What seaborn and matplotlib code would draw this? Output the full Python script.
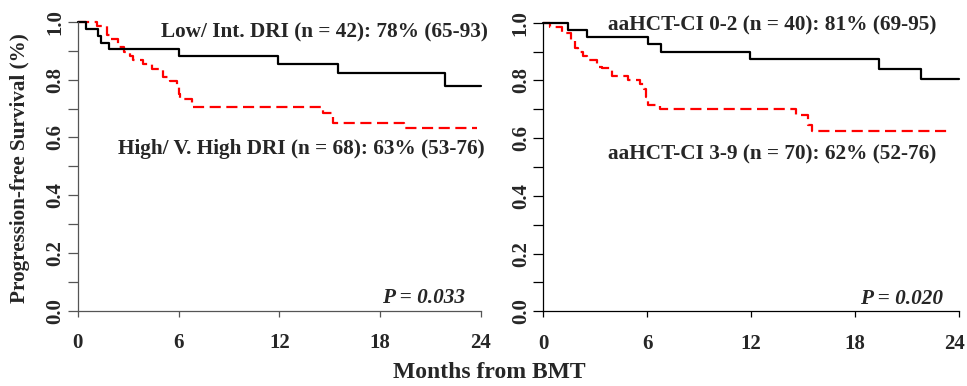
import numpy as np
import pandas as pd
import matplotlib
matplotlib.use("Agg")
import matplotlib.pyplot as plt
import matplotlib.transforms as mtrans
import seaborn as sns

# ---- data ----
# Left panel: DRI
dri_low_t = [0, 0.5, 1.23, 1.39, 1.88, 6.03, 11.94, 15.5, 21.85, 24]
dri_low_s = [1.0, 0.976, 0.952, 0.929, 0.905, 0.881, 0.855, 0.823, 0.780, 0.780]
dri_high_t = [0, 1.13, 1.73, 1.92, 2.42, 2.76, 3.1, 3.31, 3.9, 4.4, 5.1, 5.5, 5.9, 6.0, 6.1,
              6.8, 14.6, 15.2, 19.4, 23.75]
dri_high_s = [1.0, 0.985, 0.956, 0.941, 0.912, 0.897, 0.882, 0.868, 0.853, 0.838, 0.809, 0.794,
              0.779, 0.750, 0.735, 0.706, 0.686, 0.651, 0.634, 0.634]
# Right panel: aaHCT-CI
ci_low_t = [0, 1.44, 2.54, 6.07, 6.8, 11.94, 19.4, 21.8, 24]
ci_low_s = [1.0, 0.975, 0.950, 0.925, 0.900, 0.875, 0.841, 0.806, 0.806]
ci_high_t = [0, 0.4, 1.1, 1.6, 1.85, 2.0, 2.3, 2.5, 3.1, 3.4, 4.0, 4.9, 5.6, 5.8, 5.95, 6.05,
             6.75, 14.6, 15.3, 15.5, 23.5]
ci_high_s = [1.0, 0.986, 0.964, 0.936, 0.914, 0.900, 0.886, 0.871, 0.848, 0.843, 0.815, 0.800,
             0.786, 0.771, 0.743, 0.714, 0.700, 0.680, 0.646, 0.625, 0.625]

labels_left = ["Low/ Int. DRI (n = 42): 78% (65-93)", "High/ V. High DRI (n = 68): 63% (53-76)"]
labels_right = ["aaHCT-CI 0-2 (n = 40): 81% (69-95)", "aaHCT-CI 3-9 (n = 70): 62% (52-76)"]
pvals = ["P = 0.033", "P = 0.020"]
x_ticks = [0, 6, 12, 18, 24]
y_ticks = [0.0, 0.2, 0.4, 0.6, 0.8, 1.0]
y_minor = [0.1, 0.3, 0.5, 0.7, 0.9]
y_label = "Progression-free Survival (%)"
x_label = "Months from BMT"

sns.set_style("ticks")
plt.rcParams["font.family"] = ["Liberation Serif", "DejaVu Serif"]
plt.rcParams["font.weight"] = "bold"

FS = 15.3
FS_TICK = 15
FS_YLAB = 15.2
FS_XLAB = 17
fig = plt.figure(figsize=(9.67, 3.86), dpi=100)
axL = fig.add_axes([0.0804, 0.195, 0.4168, 0.748])
axR = fig.add_axes([0.5618, 0.1935, 0.4296, 0.7477])

dash = (0, (5, 2.5))

def draw(ax, t1, s1, t2, s2, spine_col):
    sns.lineplot(x=t2, y=s2, ax=ax, color="#ff0000", drawstyle="steps-post",
                 estimator=None, sort=False, linewidth=1.6, linestyle=dash, clip_on=False)
    sns.lineplot(x=t1, y=s1, ax=ax, color="black", drawstyle="steps-post",
                 estimator=None, sort=False, linewidth=1.6, clip_on=False)
    ax.set_xlim(0, 24)
    ax.set_ylim(0, 1)
    ax.set_xticks(x_ticks)
    ax.set_xticklabels([str(v) for v in x_ticks], fontsize=FS_TICK, fontweight="bold")
    ax.set_yticks(y_ticks)
    ax.set_yticklabels([f"{v:.1f}" for v in y_ticks], fontsize=FS_TICK, fontweight="bold",
                       rotation=90, va="center")
    ax.set_yticks(y_minor, minor=True)
    ax.tick_params(axis="y", which="both", length=7, width=0.9, color=spine_col, pad=2)
    ax.tick_params(axis="x", which="both", length=4, width=0.9, color=spine_col, pad=12)
    for side in ["top", "right"]:
        ax.spines[side].set_visible(False)
    for side in ["left", "bottom"]:
        ax.spines[side].set_color(spine_col)
        ax.spines[side].set_linewidth(0.9)
    ax.set_xlabel("")
    ax.set_ylabel("")
    ax.grid(False)

draw(axL, dri_low_t, dri_low_s, dri_high_t, dri_high_s, "#555555")
draw(axR, ci_low_t, ci_low_s, ci_high_t, ci_high_s, "black")

# nudge the last x tick label of the right panel so it stays inside the figure
last = axR.get_xticklabels()[-1]
last.set_transform(last.get_transform() + mtrans.ScaledTranslation(-4 / 100, 0, fig.dpi_scale_trans))

axL.text(24.45, 0.962, labels_left[0], ha="right", va="center", fontsize=FS, fontweight="bold")
axL.text(24.2, 0.56, labels_left[1], ha="right", va="center", fontsize=FS, fontweight="bold")
axL.text(23.05, 0.044, pvals[0], ha="right", va="center", fontsize=FS, fontweight="bold",
         style="italic")

axR.text(22.7, 0.99, labels_right[0], ha="right", va="center", fontsize=FS, fontweight="bold")
axR.text(22.7, 0.545, labels_right[1], ha="right", va="center", fontsize=FS, fontweight="bold")
axR.text(23.1, 0.044, pvals[1], ha="right", va="center", fontsize=FS, fontweight="bold",
         style="italic")

fig.text(20 / 967, 1 - 168 / 386, y_label, rotation=90, ha="center", va="center",
         fontsize=FS_YLAB, fontweight="bold")
fig.text(489 / 967, 1 - 372 / 386, x_label, ha="center", va="center",
         fontsize=FS_XLAB, fontweight="bold")

fig.savefig("out.png", dpi=100)
